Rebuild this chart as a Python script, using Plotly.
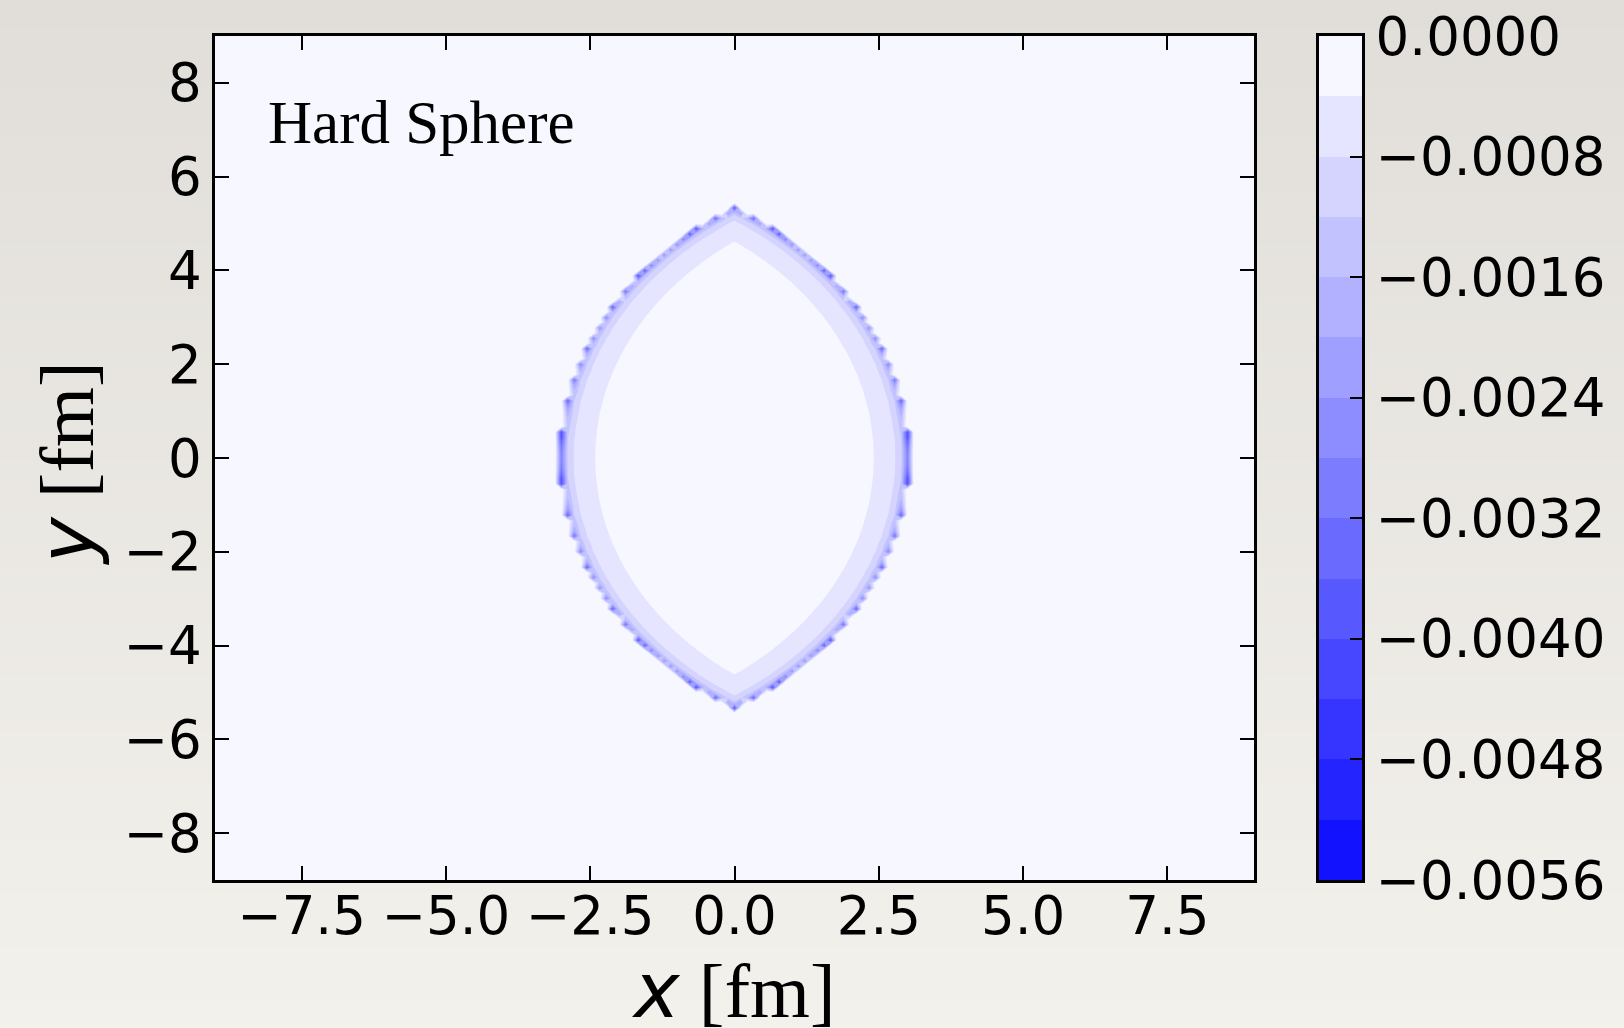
import numpy as np
import plotly.graph_objects as go

# ---------------------------------------------------------------------------
# Overlap region of two hard spheres (transverse plane, units of fm)
# ---------------------------------------------------------------------------
SPHERE_RADIUS = 6.24         # hard-sphere radius R
IMPACT_PARAMETER = 6.42      # separation b of the two centres along x

# field inside the overlap as a function of the local half-thickness h
FIELD_OFFSET = 0.000302
FIELD_SCALE = 0.001896       # field = FIELD_OFFSET - FIELD_SCALE / h
MIN_HALF_THICKNESS = 0.45    # h is floored here at the sharp rim

# sampling grid
GRID_MIN, GRID_MAX, GRID_N = -9.0, 9.0, 163

# filled-contour levels (colorbar bands)
LEVELS = [-0.0056, -0.0052, -0.0048, -0.0044, -0.0040, -0.0036, -0.0032,
          -0.0028, -0.0024, -0.0020, -0.0016, -0.0012, -0.0008, -0.0004, 0.0]

# tick labels
X_TICKS = [-7.5, -5.0, -2.5, 0.0, 2.5, 5.0, 7.5]
X_TICKTEXT = ["−7.5", "−5.0", "−2.5", "0.0", "2.5", "5.0", "7.5"]
Y_TICKS = [-8, -6, -4, -2, 0, 2, 4, 6, 8]
Y_TICKTEXT = ["−8", "−6", "−4", "−2", "0", "2", "4", "6", "8"]
CBAR_TICKS = [0.0, -0.0008, -0.0016, -0.0024, -0.0032, -0.0040, -0.0048, -0.0056]
CBAR_TICKTEXT = ["0.0000", "−0.0008", "−0.0016", "−0.0024",
                 "−0.0032", "−0.0040", "−0.0048", "−0.0056"]

LABEL_TEXT = "Hard Sphere"

# ---------------------------------------------------------------------------
# Field on the grid
# ---------------------------------------------------------------------------
gx = np.linspace(GRID_MIN, GRID_MAX, GRID_N)
gy = np.linspace(GRID_MIN, GRID_MAX, GRID_N)
X, Y = np.meshgrid(gx, gy)
half_b = IMPACT_PARAMETER / 2.0
hA2 = SPHERE_RADIUS ** 2 - (X + half_b) ** 2 - Y ** 2
hB2 = SPHERE_RADIUS ** 2 - (X - half_b) ** 2 - Y ** 2
h2 = np.minimum(hA2, hB2)
inside = h2 > 0
h = np.maximum(np.sqrt(np.where(inside, h2, 1.0)), MIN_HALF_THICKNESS)
Z = np.where(inside, FIELD_OFFSET - FIELD_SCALE / h, 0.0)

# ---------------------------------------------------------------------------
# Colours: white -> blue, one colour per band (bottom band first)
# ---------------------------------------------------------------------------
n_bands = len(LEVELS) - 1


def band_color(k):
    v = int(round(18 + (247 - 18) * k / (n_bands - 1)))
    return f"rgb({v},{v},255)"


band_colors = [band_color(k) for k in range(n_bands)]
colorscale = [[k / (n_bands - 1), c] for k, c in enumerate(band_colors)]
band_mids = [(LEVELS[k] + LEVELS[k + 1]) / 2 for k in range(n_bands)]

W, H = 1624, 1028
PX_L, PX_R, PX_T, PX_B = 215, 1254, 36, 880
CB_L, CB_R = 1319, 1362

main_xdom = [PX_L / W, PX_R / W]
ydom = [1 - PX_B / H, 1 - PX_T / H]
cb_xdom = [CB_L / W, CB_R / W]

TICK_FONT = dict(family="DejaVu Sans", size=53, color="black")
SERIF = "Liberation Serif"

fig = go.Figure()

# paper background shading
fig.add_trace(go.Heatmap(
    x=[0, 1], y=[0, 1], z=[[0, 0], [1, 1]],
    colorscale=[[0, "rgb(243,241,235)"], [1, "rgb(225,222,217)"]],
    zsmooth="best", showscale=False, hoverinfo="skip",
    xaxis="x", yaxis="y",
))

# filled contours of the field
fig.add_trace(go.Contour(
    x=gx, y=gy, z=Z,
    autocontour=False,
    contours=dict(start=LEVELS[1], end=LEVELS[-2], size=LEVELS[1] - LEVELS[0],
                  coloring="fill", showlines=False),
    line=dict(width=0, smoothing=0),
    colorscale=colorscale,
    showscale=False,
    xaxis="x2", yaxis="y2",
))

# colorbar drawn as a one-column heatmap of the band values
fig.add_trace(go.Heatmap(
    x=[0, 1], y=LEVELS,
    z=[[m] for m in band_mids],
    colorscale=colorscale, zmin=band_mids[0], zmax=band_mids[-1],
    showscale=False, hoverinfo="skip",
    xaxis="x3", yaxis="y3",
))

axis_common = dict(
    showline=True, linecolor="black", linewidth=2.5,
    ticks="inside", ticklen=14, tickwidth=2, tickcolor="black",
    showgrid=False, zeroline=False, tickfont=TICK_FONT, automargin=False,
)

fig.update_layout(
    width=W, height=H, autosize=False,
    margin=dict(l=0, r=0, t=0, b=0, pad=0, autoexpand=False),
    paper_bgcolor="rgb(235,232,227)",
    plot_bgcolor="rgba(0,0,0,0)",
    showlegend=False,
    xaxis=dict(domain=[0, 1], range=[0, 1], visible=False, fixedrange=True,
               automargin=False),
    yaxis=dict(domain=[0, 1], range=[0, 1], visible=False, fixedrange=True,
               automargin=False),
    xaxis2=dict(domain=main_xdom, range=[-9, 9], anchor="y2",
                tickvals=X_TICKS, ticktext=X_TICKTEXT, mirror="allticks",
                ticklabelstandoff=-12, **axis_common),
    yaxis2=dict(domain=ydom, range=[-9, 9], anchor="x2",
                tickvals=Y_TICKS, ticktext=Y_TICKTEXT, mirror="allticks",
                **axis_common),
    xaxis3=dict(domain=cb_xdom, range=[0, 1], anchor="y3",
                showline=True, linecolor="black", linewidth=3, mirror=True,
                showticklabels=False, ticks="", showgrid=False, zeroline=False,
                automargin=False),
    yaxis3=dict(domain=ydom, range=[LEVELS[0], LEVELS[-1]], anchor="x3",
                side="right", tickvals=CBAR_TICKS, ticktext=CBAR_TICKTEXT,
                showline=True, linecolor="black", linewidth=3, mirror=True,
                ticks="inside", ticklen=12, tickwidth=2, tickcolor="black",
                showgrid=False, zeroline=False, tickfont=TICK_FONT,
                automargin=False),
    annotations=[
        dict(text=LABEL_TEXT, x=266 / W, y=1 - 122 / H, xref="paper", yref="paper",
             xanchor="left", yanchor="middle", showarrow=False,
             font=dict(family=SERIF, size=61, color="black")),
        dict(text='<span style="font-family:DejaVu Sans"><i>x</i></span> [fm]',
             x=734 / W, y=1 - 990 / H, xref="paper", yref="paper",
             xanchor="center", yanchor="middle", showarrow=False,
             font=dict(family=SERIF, size=77, color="black")),
        dict(text='<span style="font-family:DejaVu Sans"><i>y</i></span> [fm]',
             x=67 / W, y=1 - 463 / H, xref="paper", yref="paper",
             xanchor="center", yanchor="middle", showarrow=False, textangle=-90,
             font=dict(family=SERIF, size=77, color="black")),
    ],
)

fig.write_html("out.html")
